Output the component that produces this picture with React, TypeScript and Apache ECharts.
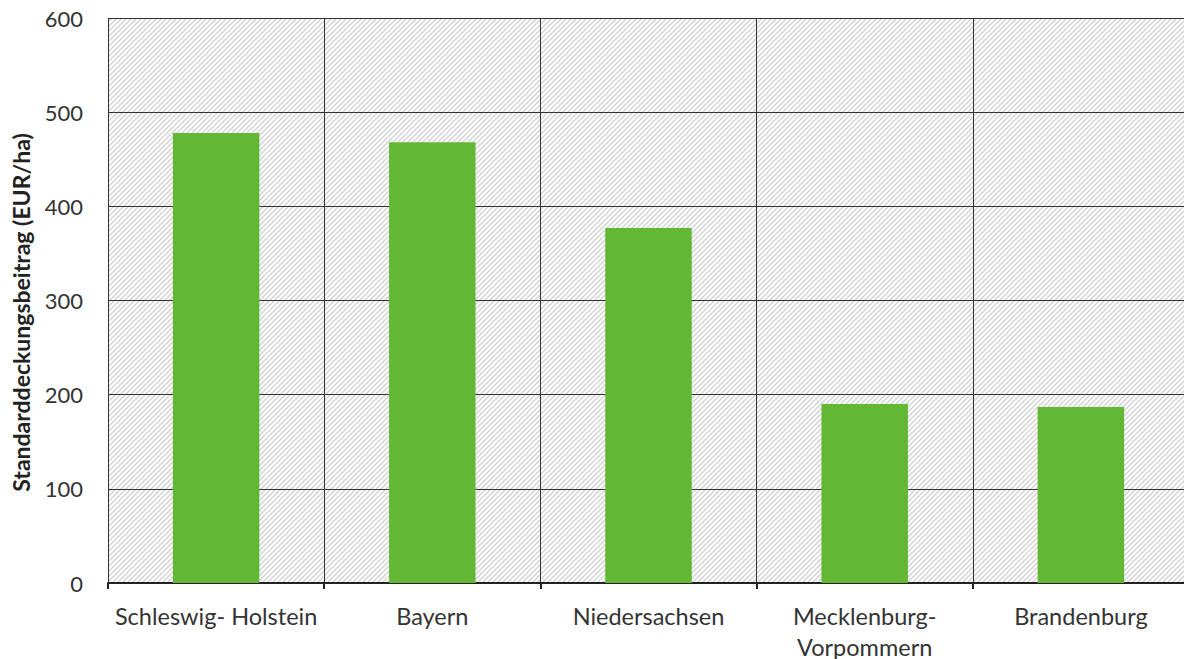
import React, { useEffect, useRef } from "react";
import * as echarts from "echarts";

const categories = ["Schleswig- Holstein", "Bayern", "Niedersachsen", "Mecklenburg-\nVorpommern", "Brandenburg"];
const values = [478, 468, 377, 190, 187];
const yTicks = { min: 0, max: 600, interval: 100 };
const yTitle = "Standarddeckungsbeitrag (EUR/ha)";

const hatchSvg =
  "data:image/svg+xml;charset=utf-8," +
  encodeURIComponent(
    '<svg xmlns="http://www.w3.org/2000/svg" width="5" height="5">' +
      '<rect width="5" height="5" fill="#ffffff"/>' +
      '<path d="M-1,6 L6,-1 M-1,1 L1,-1 M4,6 L6,4" stroke="#d2d2d2" stroke-width="1.4"/>' +
      "</svg>"
  );

export default function App() {
  const ref = useRef<HTMLDivElement>(null);
  useEffect(() => {
    if (!ref.current) return;
    const chart = echarts.init(ref.current, undefined, { renderer: "svg" });
    chart.setOption({
      animation: false,
      grid: {
        left: 108,
        top: 18,
        right: -5,
        bottom: 76,
        outerBoundsMode: "none",
        containLabel: false,
        show: true,
        borderWidth: 0,
        backgroundColor: { image: hatchSvg, repeat: "repeat" } as any,
      },
      xAxis: {
        type: "category",
        data: categories,
        axisLine: { lineStyle: { color: "#222", width: 2 } },
        axisTick: { show: true, length: 6, lineStyle: { color: "#222", width: 2 } },
        splitLine: { show: true, interval: 0, lineStyle: { color: "#333", width: 1 } },
        axisLabel: {
          interval: 0,
          color: "#333",
          fontFamily: "Lato",
          fontSize: 23.5,
          margin: 17,
          lineHeight: 31,
        },
      },
      yAxis: {
        type: "value",
        min: yTicks.min,
        max: yTicks.max,
        interval: yTicks.interval,
        name: yTitle,
        nameLocation: "middle",
        nameGap: 76,
        nameTextStyle: {
          color: "#222",
          fontFamily: "Lato",
          fontSize: 23,
          fontWeight: "bold",
          padding: [0, 24, 0, 0],
        },
        axisLine: { show: false },
        axisTick: { show: false },
        splitLine: { show: true, lineStyle: { color: "#333", width: 1 } },
        axisLabel: { color: "#333", fontFamily: "Lato", fontSize: 22, margin: 25 },
      },
      series: [
        {
          type: "bar",
          data: values,
          barWidth: "40%",
          itemStyle: { color: "#62b834" },
        },
      ],
    });
    return () => chart.dispose();
  }, []);
  return <div ref={ref} style={{ position: "fixed", left: 0, top: 0, width: 1184, height: 659, background: "#fff" }} />;
}
